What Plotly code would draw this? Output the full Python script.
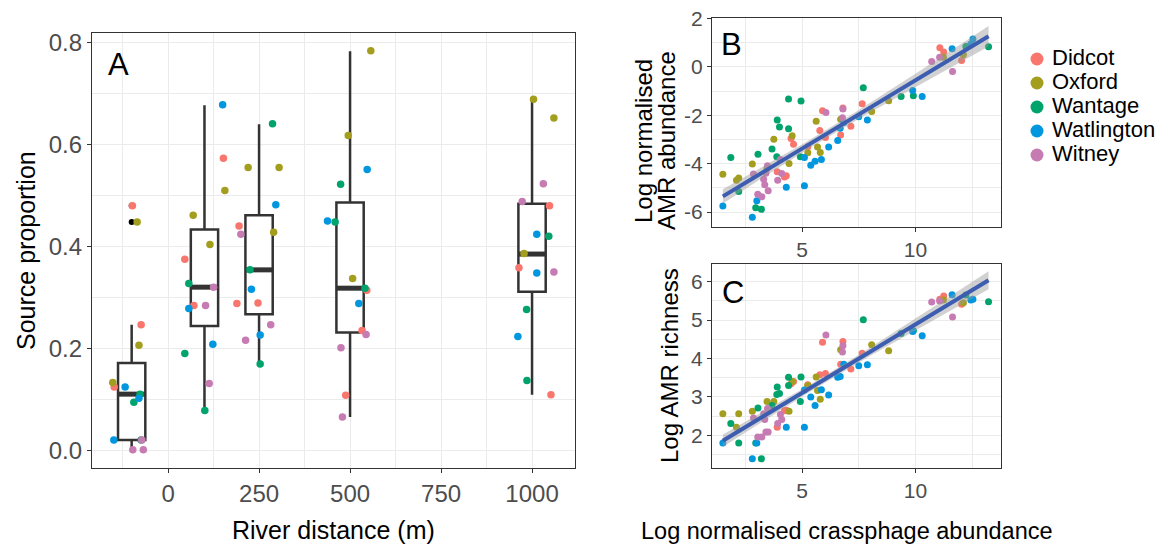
import numpy as np
import plotly.graph_objects as go

W, H = 1163, 545

towns = ["Didcot", "Oxford", "Wantage", "Watlington", "Witney"]
town_colors = ["#F8766D", "#A39E1E", "#00A36C", "#0097DF", "#C77BB3"]

# Panel A - source proportion vs river distance (x already jittered round the box positions)
a_x = {
    "Didcot":     [-98, -74, -148, 152, 46, 71, 195, 189, 247, 546, 533, 488, 1048, 964, 1052],
    "Oxford":     [-85, -80, -152, 156, 69, 115, 220, 305, 290, 557, 495, 507, 1004, 1060, 978],
    "Wantage":    [-77, -94, -74, 57, 46, 101, 287, 225, 253, 474, 459, 541, 1046, 985, 986],
    "Watlington": [-118, -80, -149, 150, 57, 123, 296, 229, 253, 547, 438, 524, 1013, 1013, 961],
    "Witney":     [-72, -97, -68, 125, 103, 113, 200, 282, 213, 544, 475, 479, 1031, 973, 1060],
}
a_y = {
    "Didcot":     [0.480, 0.246, 0.124, 0.573, 0.375, 0.284, 0.440, 0.288, 0.289, 0.314, 0.235, 0.108, 0.480, 0.358, 0.109],
    "Oxford":     [0.448, 0.206, 0.133, 0.510, 0.461, 0.404, 0.555, 0.555, 0.428, 0.784, 0.618, 0.337, 0.689, 0.652, 0.386],
    "Wantage":    [0.110, 0.094, 0.020, 0.327, 0.190, 0.078, 0.641, 0.354, 0.169, 0.522, 0.448, 0.318, 0.420, 0.276, 0.137],
    "Watlington": [0.124, 0.102, 0.020, 0.678, 0.278, 0.208, 0.482, 0.316, 0.226, 0.551, 0.450, 0.288, 0.424, 0.348, 0.223],
    "Witney":     [0.020, 0.001, 0.001, 0.320, 0.284, 0.131, 0.424, 0.246, 0.216, 0.227, 0.201, 0.065, 0.523, 0.488, 0.350],
}

# boxplot summary per distance
box_pos = [-100, 100, 250, 500, 1000]
box_lo = [0.000, 0.078, 0.169, 0.065, 0.109]
box_q1 = [0.020, 0.244, 0.267, 0.231, 0.311]
box_med = [0.110, 0.320, 0.354, 0.318, 0.385]
box_q3 = [0.171, 0.433, 0.461, 0.486, 0.484]
box_hi = [0.246, 0.677, 0.640, 0.783, 0.689]
out_x = [-100, -100]
out_y = [0.480, 0.448]
box_w = 75

# Panels B and C - log crassphage vs log AMR abundance (B) and log AMR richness (C)
bc_x = {
    "Didcot":     [3.90, 4.22, 4.30, 4.51, 4.62, 5.25, 5.78, 5.90, 6.03, 6.70, 6.80, 7.15, 7.65, 11.08, 11.25, 12.04],
    "Oxford":     [1.50, 2.10, 2.20, 2.80, 3.45, 3.75, 4.42, 4.56, 5.25, 5.62, 5.68, 5.80, 6.70, 8.07, 8.82, 11.24, 12.12],
    "Wantage":    [1.85, 2.20, 2.95, 3.20, 3.05, 3.67, 3.90, 4.00, 3.88, 4.40, 4.40, 4.95, 4.92, 7.70, 9.37, 9.91, 12.23, 13.23],
    "Watlington": [1.50, 2.80, 3.00, 4.30, 5.10, 5.10, 5.38, 5.57, 5.85, 6.17, 6.57, 6.68, 6.84, 7.50, 7.88, 9.88, 10.30, 11.62, 12.45, 12.54],
    "Witney":     [2.85, 3.04, 3.22, 3.30, 3.35, 3.47, 3.50, 3.40, 3.92, 4.04, 4.10, 6.05, 6.80, 6.78, 10.72, 11.07, 11.64],
}
b_y = {
    "Didcot":     [-4.34, -4.55, -4.50, -2.96, -3.20, -3.30, -2.63, -1.81, -2.92, -2.82, -1.70, -2.46, -1.52, 0.79, 0.61, 0.26],
    "Oxford":     [-4.44, -4.69, -4.59, -4.02, -4.20, -2.99, -4.00, -2.85, -3.55, -2.25, -3.31, -3.54, -2.17, -1.85, -1.40, 0.40, 0.50],
    "Wantage":    [-3.75, -5.15, -5.82, -5.89, -3.61, -3.40, -2.20, -2.49, -3.72, -1.33, -2.56, -1.41, -3.72, -0.86, -1.23, -1.19, 0.84, 0.83],
    "Watlington": [-5.75, -6.22, -5.53, -4.98, -3.75, -4.91, -4.07, -3.90, -3.83, -3.31, -3.04, -2.54, -2.30, -2.06, -2.20, -0.98, -1.23, 0.75, 0.95, 1.15],
    "Witney":     [-4.43, -5.27, -5.37, -4.65, -4.87, -4.09, -5.12, -4.40, -4.69, -3.83, -4.41, -1.89, -1.74, -2.10, 0.22, 0.40, -0.19],
}
c_y = {
    "Didcot":     [2.21, 2.64, 2.65, 3.34, 3.40, 3.32, 3.58, 4.42, 3.61, 3.85, 4.44, 3.73, 4.14, 5.54, 5.63, 5.41],
    "Oxford":     [2.56, 2.21, 2.56, 2.63, 2.88, 2.88, 2.63, 3.40, 3.30, 3.52, 3.17, 2.94, 4.23, 4.36, 4.20, 5.52, 5.45],
    "Wantage":    [2.31, 1.80, 1.80, 1.39, 2.71, 2.78, 3.26, 3.09, 3.06, 3.51, 3.30, 3.52, 2.88, 5.01, 4.65, 4.72, 5.65, 5.48],
    "Watlington": [1.80, 1.39, 1.80, 2.21, 3.18, 2.21, 3.00, 2.78, 3.19, 3.05, 3.51, 3.53, 3.85, 3.81, 3.84, 4.70, 4.59, 5.66, 5.52, 5.54],
    "Witney":     [2.45, 1.96, 1.96, 2.56, 2.41, 2.70, 2.09, 2.09, 2.31, 2.54, 2.41, 4.61, 4.33, 4.17, 5.47, 5.50, 5.08],
}

b_ticks = [-6, -4, -2, 0, 2]
b_ticktext = ["-6", "-4", "-2", "0", "2"]

FONT = "Liberation Sans, Arial, sans-serif"
GRID = "#EBEBEB"
FRAME = "#333333"
TICKC = "#4D4D4D"
LINE_BLUE = "#3D5DB0"


def px_x(p):
    return p / W


def px_y(p):
    return 1 - p / H


def lm_band(xs, ys):
    # ordinary least squares with 95% confidence band (like geom_smooth(method="lm"))
    xs = np.asarray(xs, float)
    ys = np.asarray(ys, float)
    n = len(xs)
    b1, b0 = np.polyfit(xs, ys, 1)
    resid = ys - (b0 + b1 * xs)
    s = np.sqrt(np.sum(resid ** 2) / (n - 2))
    sxx = np.sum((xs - xs.mean()) ** 2)
    grid = np.linspace(xs.min(), xs.max(), 80)
    fit = b0 + b1 * grid
    se = s * np.sqrt(1 / n + (grid - xs.mean()) ** 2 / sxx)
    return grid, fit, fit - 1.99 * se, fit + 1.99 * se


fig = go.Figure()

# ---- Panel A ----
fig.add_trace(go.Box(
    x=box_pos, q1=box_q1, median=box_med, q3=box_q3,
    lowerfence=box_lo, upperfence=box_hi,
    width=box_w, whiskerwidth=0, fillcolor="white",
    line=dict(color=FRAME, width=2.5), boxpoints=False,
    showlegend=False, hoverinfo="skip", xaxis="x", yaxis="y",
))
# thick median bars
mx, my = [], []
for p, m in zip(box_pos, box_med):
    mx += [p - box_w / 2, p + box_w / 2, None]
    my += [m, m, None]
fig.add_trace(go.Scatter(x=mx, y=my, mode="lines", line=dict(color=FRAME, width=5),
                         showlegend=False, hoverinfo="skip", xaxis="x", yaxis="y"))
# outliers
fig.add_trace(go.Scatter(x=out_x, y=out_y, mode="markers", marker=dict(color="black", size=6),
                         showlegend=False, xaxis="x", yaxis="y"))
for t, c in zip(towns, town_colors):
    fig.add_trace(go.Scatter(x=a_x[t], y=a_y[t], mode="markers",
                             marker=dict(color=c, size=7.5), name=t,
                             showlegend=False, xaxis="x", yaxis="y"))

# ---- Panels B and C ----
all_x = sum([bc_x[t] for t in towns], [])
for ys, xa, ya in [(b_y, "x2", "y2"), (c_y, "x3", "y3")]:
    all_y = sum([ys[t] for t in towns], [])
    gx, fit, lo, hi = lm_band(all_x, all_y)
    for t, c in zip(towns, town_colors):
        fig.add_trace(go.Scatter(x=bc_x[t], y=ys[t], mode="markers",
                                 marker=dict(color=c, size=7), name=t,
                                 showlegend=False, xaxis=xa, yaxis=ya))
    fig.add_trace(go.Scatter(x=np.concatenate([gx, gx[::-1]]), y=np.concatenate([hi, lo[::-1]]),
                             fill="toself", fillcolor="rgba(153,153,153,0.45)", line=dict(width=0),
                             mode="lines", showlegend=False, hoverinfo="skip", xaxis=xa, yaxis=ya))
    fig.add_trace(go.Scatter(x=gx, y=fit, mode="lines", line=dict(color=LINE_BLUE, width=4),
                             showlegend=False, hoverinfo="skip", xaxis=xa, yaxis=ya))

# ---- legend: drawn on its own hidden axis so the rows can sit close like ggplot's ----
leg_rows = list(range(len(towns)))
fig.add_trace(go.Scatter(x=[0] * len(towns), y=leg_rows, mode="markers",
                         marker=dict(color=town_colors, size=13),
                         showlegend=False, hoverinfo="skip", xaxis="x4", yaxis="y4"))
fig.add_trace(go.Scatter(x=[15] * len(towns), y=leg_rows, mode="text", text=towns,
                         textposition="middle right",
                         textfont=dict(family=FONT, size=22, color="black"),
                         showlegend=False, hoverinfo="skip", xaxis="x4", yaxis="y4"))


def axis_style(tick_size):
    return dict(
        showline=True, mirror=True, linecolor=FRAME, linewidth=1.3,
        showgrid=True, gridcolor=GRID, gridwidth=1.4,
        ticks="outside", ticklen=4, tickcolor=FRAME, tickwidth=1.3,
        tickfont=dict(family=FONT, size=tick_size, color=TICKC),
        zeroline=False,
    )


hidden = dict(visible=False, showgrid=False, zeroline=False, fixedrange=True)
minor_grid = dict(showgrid=True, gridcolor=GRID, gridwidth=0.7, tick0=0)

fig.update_layout(
    width=W, height=H,
    margin=dict(l=0, r=0, t=0, b=0, autoexpand=False),
    plot_bgcolor="white", paper_bgcolor="white",
    font=dict(family=FONT, color="black"),
    showlegend=False,
    xaxis=dict(domain=[px_x(92), px_x(575)], range=[-209, 1118], dtick=250, tick0=0,
               minor=dict(dtick=125, **minor_grid), anchor="y", **axis_style(24)),
    yaxis=dict(domain=[px_y(468), px_y(33)], range=[-0.035, 0.819], dtick=0.2, tick0=0,
               tickformat=".1f", minor=dict(dtick=0.1, **minor_grid), anchor="x", **axis_style(24)),
    xaxis2=dict(domain=[px_x(712), px_x(1001)], range=[1.02, 13.78], dtick=5, tick0=0,
                minor=dict(dtick=2.5, **minor_grid), anchor="y2", **axis_style(21)),
    yaxis2=dict(domain=[px_y(227), px_y(18)], range=[-6.62, 2.02],
                tickmode="array", tickvals=b_ticks, ticktext=b_ticktext,
                minor=dict(dtick=1, **minor_grid), anchor="x2", **axis_style(21)),
    xaxis3=dict(domain=[px_x(712), px_x(1001)], range=[1.02, 13.78], dtick=5, tick0=0,
                minor=dict(dtick=2.5, **minor_grid), anchor="y3", **axis_style(21)),
    yaxis3=dict(domain=[px_y(468), px_y(264)], range=[1.15, 6.46], dtick=1, tick0=0,
                minor=dict(dtick=0.5, **minor_grid), anchor="x3", **axis_style(21)),
    # legend area: 1 x unit = 1 px, 1 row = 24 px
    xaxis4=dict(domain=[px_x(1020), 1.0], range=[-17, 126], anchor="y4", **hidden),
    yaxis4=dict(domain=[px_y(167), px_y(47)], range=[4.5, -0.5], anchor="x4", **hidden),
)

annots = [
    dict(text="A", x=px_x(118), y=px_y(65), font_size=31),
    dict(text="B", x=px_x(731), y=px_y(44), font_size=31),
    dict(text="C", x=px_x(733), y=px_y(292), font_size=31),
    dict(text="Source proportion", x=px_x(26), y=px_y(251), font_size=25, textangle=-90),
    dict(text="River distance (m)", x=px_x(333), y=px_y(530), font_size=25),
    dict(text="Log normalised", x=px_x(644), y=px_y(141), font_size=24, textangle=-90),
    dict(text="AMR abundance", x=px_x(667), y=px_y(141), font_size=24, textangle=-90),
    dict(text="Log AMR richness", x=px_x(669), y=px_y(366), font_size=24, textangle=-90),
    dict(text="Log normalised crassphage abundance", x=px_x(847), y=px_y(531), font_size=23.5),
]
for a in annots:
    fs = a.pop("font_size")
    fig.add_annotation(xref="paper", yref="paper", showarrow=False,
                       xanchor="center", yanchor="middle",
                       font=dict(family=FONT, size=fs, color="black"), **a)

# the page has a default 8px body margin; drop it so the figure sits at the window corner
fig.write_html("out.html", config={"displayModeBar": False},
               post_script="document.body.style.margin='0';")
